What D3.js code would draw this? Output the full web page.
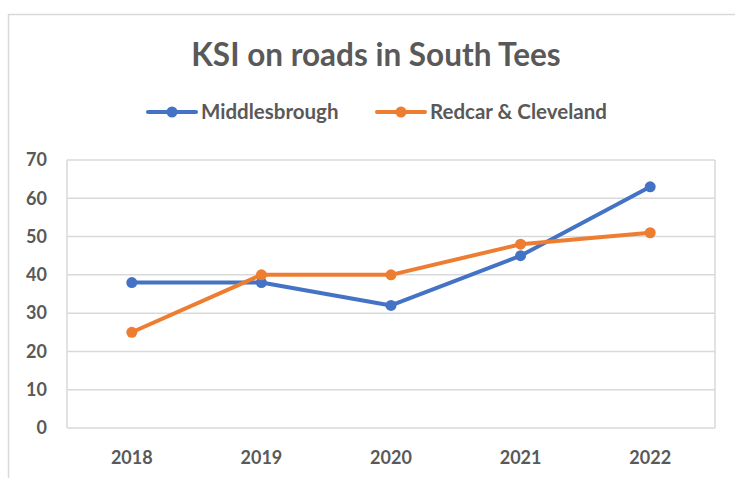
<!DOCTYPE html>
<html lang="en">
<head>
<meta charset="UTF-8">
<title>KSI on roads in South Tees</title>
<script src="https://d3js.org/d3.v7.min.js"></script>
<style>
    body { margin: 0; background: #fff; overflow: hidden; }
    text { font-family: Lato, 'Open Sans', sans-serif; fill: #595959; }
</style>
</head>
<body>
<div id="chart"></div>
<script>
    const years = ["2018", "2019", "2020", "2021", "2022"];
    const middlesbrough = [38, 38, 32, 45, 63];
    const redcar = [25, 40, 40, 48, 51];
    const yTicks = [0, 10, 20, 30, 40, 50, 60, 70];

    const series = [
        { name: "Middlesbrough", values: middlesbrough, color: "#4472C4" },
        { name: "Redcar & Cleveland", values: redcar, color: "#ED7D31" }
    ];

    const width = 735, height = 478;
    const plot = { left: 67, right: 715, top: 160, bottom: 428 };

    const svg = d3.select("#chart").append("svg")
        .attr("width", width)
        .attr("height", height);

    // outer chart frame
    svg.append("path")
        .attr("d", `M8.5,${height} V14.5 H${width}`)
        .attr("fill", "none")
        .attr("stroke", "#d9d9d9")
        .attr("stroke-width", 1.5);

    const x = d3.scaleBand().domain(years).range([plot.left, plot.right]);
    const y = d3.scaleLinear().domain([0, 70]).range([plot.bottom, plot.top]);

    // gridlines
    svg.append("g").selectAll("line")
        .data(yTicks)
        .join("line")
        .attr("x1", plot.left).attr("x2", plot.right)
        .attr("y1", d => y(d)).attr("y2", d => y(d))
        .attr("stroke", "#d9d9d9")
        .attr("stroke-width", 1.5);

    // plot box sides
    [plot.left, plot.right].forEach(px => {
        svg.append("line")
            .attr("x1", px).attr("x2", px)
            .attr("y1", plot.top).attr("y2", plot.bottom)
            .attr("stroke", "#d9d9d9")
            .attr("stroke-width", 1.5);
    });

    // y labels
    svg.append("g").selectAll("text")
        .data(yTicks)
        .join("text")
        .attr("x", 47)
        .attr("y", d => y(d))
        .attr("dy", "0.35em")
        .attr("text-anchor", "end")
        .attr("font-size", 18)
        .attr("font-weight", "bold")
        .text(d => d);

    // x labels
    svg.append("g").selectAll("text")
        .data(years)
        .join("text")
        .attr("x", d => x(d) + x.bandwidth() / 2)
        .attr("y", 458)
        .attr("dy", "0.35em")
        .attr("text-anchor", "middle")
        .attr("font-size", 18)
        .attr("font-weight", "bold")
        .text(d => d);

    const line = d3.line()
        .x((d, i) => x(years[i]) + x.bandwidth() / 2)
        .y(d => y(d));

    series.forEach(s => {
        svg.append("path")
            .attr("d", line(s.values))
            .attr("fill", "none")
            .attr("stroke", s.color)
            .attr("stroke-width", 4)
            .attr("stroke-linejoin", "round");
        svg.append("g").selectAll("circle")
            .data(s.values)
            .join("circle")
            .attr("cx", (d, i) => x(years[i]) + x.bandwidth() / 2)
            .attr("cy", d => y(d))
            .attr("r", 5.5)
            .attr("fill", s.color);
    });

    // title
    svg.append("text")
        .attr("x", 376)
        .attr("y", 55)
        .attr("dy", "0.35em")
        .attr("text-anchor", "middle")
        .attr("font-size", 31.5)
        .attr("font-weight", "bold")
        .text("KSI on roads in South Tees");

    // legend
    const legendX = [148, 377];
    series.forEach((s, i) => {
        const lg = svg.append("g").attr("transform", `translate(${legendX[i]},112)`);
        lg.append("line")
            .attr("x1", 0).attr("x2", 48)
            .attr("stroke", s.color)
            .attr("stroke-width", 4)
            .attr("stroke-linecap", "round");
        lg.append("circle").attr("cx", 24).attr("r", 5.5).attr("fill", s.color);
        lg.append("text")
            .attr("x", 53)
            .attr("dy", "0.35em")
            .attr("font-size", 20.5)
            .attr("font-weight", "bold")
            .text(s.name);
    });
</script>
</body>
</html>
